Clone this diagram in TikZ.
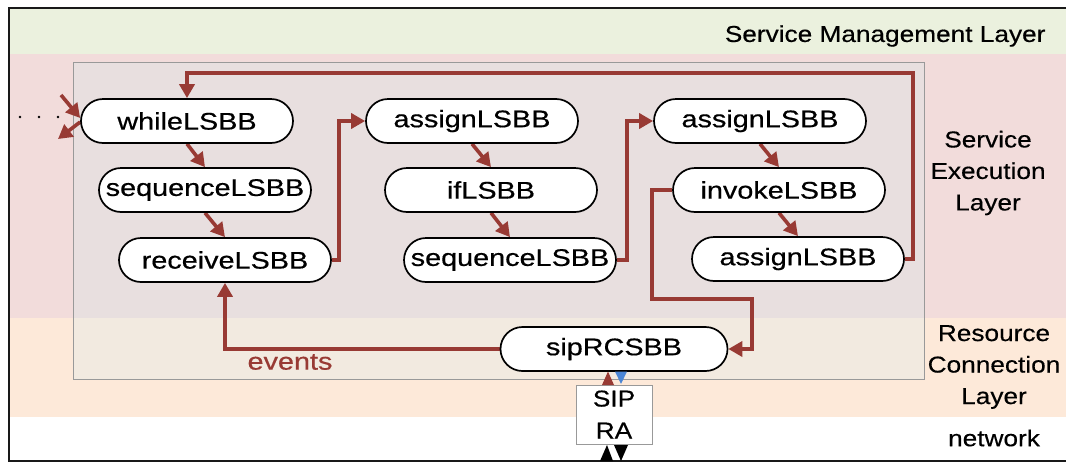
\documentclass[tikz,border=0pt]{standalone}
\usepackage{fontspec}
\setmainfont{Liberation Sans}
\newfontfamily\nodefont[FakeStretch=1.2,FakeBold=0.5]{Liberation Sans}
\newfontfamily\labfont[FakeStretch=1.14,FakeBold=0.4]{Liberation Sans}
\usetikzlibrary{arrows.meta,calc}
\definecolor{smgreen}{HTML}{EBF1DE}
\definecolor{sepink}{HTML}{F2DCDB}
\definecolor{rcpeach}{HTML}{FDE9D9}
\definecolor{boxpink}{HTML}{E8DFDF}
\definecolor{boxpeach}{HTML}{F2EAE0}
\definecolor{flow}{HTML}{983A34}
\definecolor{sigblue}{HTML}{4A86D6}
\pgfdeclarelayer{bg}
\pgfdeclarelayer{arr}
\pgfsetlayers{bg,arr,main}
\begin{document}
\begin{tikzpicture}[x=1pt,y=-1pt,
 bb/.style={draw=black,line width=1.7pt,fill=white,rounded corners=22pt,minimum width=212pt,minimum height=44pt,inner sep=0pt,font=\nodefont\fontsize{24}{28}\selectfont},
 flowarrow/.style={draw=flow,line width=3.6pt,-{Triangle[length=14pt,width=15pt]}},
 layerlabel/.style={font=\labfont\fontsize{23}{31.5}\selectfont,align=center,text=black},
]
\useasboundingbox (0,0) rectangle (1066,464);
\begin{pgfonlayer}{bg}
\fill[white] (0,0) rectangle (1066,464);
\fill[smgreen] (10,9) rectangle (1066,54);
\fill[sepink] (10,54) rectangle (1066,318);
\fill[rcpeach] (10,318) rectangle (1066,417);
\draw[line width=2pt,black!90] (1070,8) -- (9,8) -- (9,461) -- (1070,461);
\fill[boxpink] (73,62) rectangle (924,318);
\fill[boxpeach] (73,318) rectangle (924,379);
\draw[black!40,line width=1pt] (73,62) rectangle (924,379);
\end{pgfonlayer}

% layer labels
\node[layerlabel,anchor=east] (lsm) at (1049,36) {Service Management Layer};
\node[layerlabel] (lse) at (988,173) {Service\\Execution\\Layer};
\node[layerlabel] (lrc) at (994,367) {Resource\\Connection\\Layer};
\node[layerlabel] (lnet) at (994,438) {network};

% building blocks
\node[bb] (while) at (187,121) {whileLSBB};
\node[bb] (seqA) at (205,190) {sequenceLSBB};
\node[bb] (recv) at (225,260) {receiveLSBB};
\node[bb] (asgA) at (472,121) {assignLSBB};
\node[bb] (if) at (491,190) {ifLSBB};
\node[bb] (seqB) at (510,260) {sequenceLSBB};
\node[bb] (asgB) at (760,121) {assignLSBB};
\node[bb] (inv) at (779,190) {invokeLSBB};
\node[bb] (asgC) at (798,259) {assignLSBB};
\node[bb,minimum width=227pt] (sip) at (614,349) {sipRCSBB};
\node[draw=black!40,fill=white,line width=1pt,minimum width=76pt,minimum height=59pt,inner sep=0pt,align=center,font=\labfont\fontsize{23}{32}\selectfont] (ra) at (614,414.5) {SIP\\RA};
\node[text=flow,font=\nodefont\fontsize{24}{28}\selectfont] (ev) at (290,362) {events};

% dots
\fill (20,117) circle (1.4pt);
\fill (39,117) circle (1.4pt);
\fill (58,117) circle (1.4pt);

\coordinate (inStart) at (61,95);
\coordinate (outEnd) at (58,139);
\coordinate (loopTop) at (913,73);
\coordinate (invDown) at (652,299);
\coordinate (sipRight) at (752,299);

\begin{pgfonlayer}{arr}
\draw[flowarrow] (inStart) -- ($(while.west)+(0,-3)$);
\draw[flowarrow] ($(while.west)+(0,1)$) -- (outEnd);
\draw[flowarrow] (while.south) -- (seqA.north);
\draw[flowarrow] (seqA.south) -- (recv.north);
\draw[flowarrow] (recv.east) -- ++(7,0) |- (asgA.west);
\draw[flowarrow] (asgA.south) -- (if.north);
\draw[flowarrow] (if.south) -- (seqB.north);
\draw[flowarrow] (seqB.east) -- ++(10,0) |- (asgB.west);
\draw[flowarrow] (asgB.south) -- (inv.north);
\draw[flowarrow] (inv.south) -- (asgC.north);
\draw[flowarrow] (asgC.east) -- (asgC.east -| loopTop) -- (loopTop) -- (loopTop -| while.north) -- (while.north);
\draw[flowarrow] (inv.west) -- (inv.west -| invDown) -- (invDown) -- (sipRight) -- (sipRight |- sip.east) -- (sip.east);
\draw[flowarrow] (sip.west) -| (recv.south);
\end{pgfonlayer}

% signal triangles
\fill[flow] (602,385) -- (614,385) -- (608,371.5) -- cycle;
\fill[sigblue] (615,371.5) -- (627,371.5) -- (621,384) -- cycle;
\fill[black] (600,461) -- (613,461) -- (607,445) -- cycle;
\fill[black] (614,445) -- (628,445) -- (621,461) -- cycle;
\end{tikzpicture}
\end{document}
